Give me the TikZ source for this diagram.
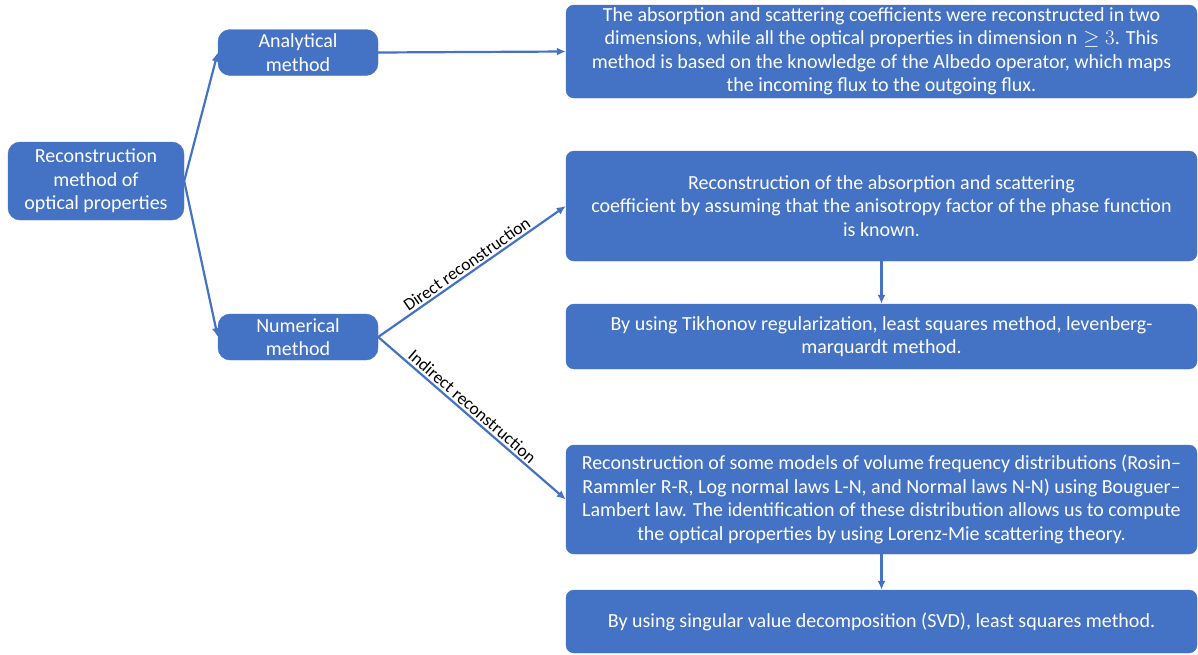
\documentclass[tikz,border=0pt]{standalone}
\usepackage{fontspec}
\setmainfont{Carlito}
\usetikzlibrary{arrows.meta}
\definecolor{obl}{HTML}{4472C4}
\begin{document}
\begin{tikzpicture}[x=1pt,y=-1pt,
  box/.style={draw=obl, fill=obl, text=white, rounded corners=8pt, align=center, inner sep=0pt, font=\fontsize{20}{23.5}\selectfont},
  smallbox/.style={box, minimum width=160pt, minimum height=46pt, rounded corners=12pt},
  bigbox/.style={box, minimum width=631pt},
  conn/.style={draw=obl, line width=2.2pt, -{Latex[length=9pt,width=8pt]}},
  lbl/.style={font=\fontsize{17.5}{20}\selectfont, text=black, sloped, above, inner sep=2pt}]
\useasboundingbox (0,0) rectangle (1198,654);
\node[box, minimum width=176pt, minimum height=78pt, rounded corners=12pt] (root) at (96,181) {Reconstruction\\method of\\optical properties};
\node[smallbox] (ana) at (298,52.5) {Analytical\\method};
\node[smallbox] (num) at (298,337) {Numerical\\method};
\node[bigbox, minimum height=93pt] (b1) at (881.5,51.5) {The absorption and scattering coefficients were reconstructed in two\\dimensions, while all the optical properties in dimension $\mathrm{n}\geq 3$. This\\method is based on the knowledge of the Albedo operator, which maps\\the incoming flux to the outgoing flux.};
\node[bigbox, minimum height=110pt] (b2) at (881.5,206) {Reconstruction of the absorption and scattering\\coefficient by assuming that the anisotropy factor of the phase function\\is known.};
\node[bigbox, minimum height=65pt] (b3) at (881.5,336.5) {By using Tikhonov regularization, least squares method, levenberg-\\marquardt method.};
\node[bigbox, minimum height=109pt] (b4) at (881.5,499.5) {Reconstruction of some models of volume frequency distributions (Rosin--\\Rammler R-R, Log normal laws L-N, and Normal laws N-N) using Bouguer--\\Lambert law. The identification of these distribution allows us to compute\\the optical properties by using Lorenz-Mie scattering theory.};
\node[bigbox, minimum height=63pt] (b5) at (881.5,621.5) {By using singular value decomposition (SVD), least squares method.};
\draw[conn] (root.east) -- (ana.west);
\draw[conn] (root.east) -- (num.west);
\draw[conn] (ana.east) -- (b1.west);
\draw[conn] (num.east) -- node[lbl] {Direct reconstruction} (b2.west);
\draw[conn] (num.east) -- node[lbl, pos=0.47] {Indirect reconstruction} (b4.west);
\draw[conn] (b2.south) -- (b3.north);
\draw[conn] (b4.south) -- (b5.north);
\end{tikzpicture}
\end{document}
